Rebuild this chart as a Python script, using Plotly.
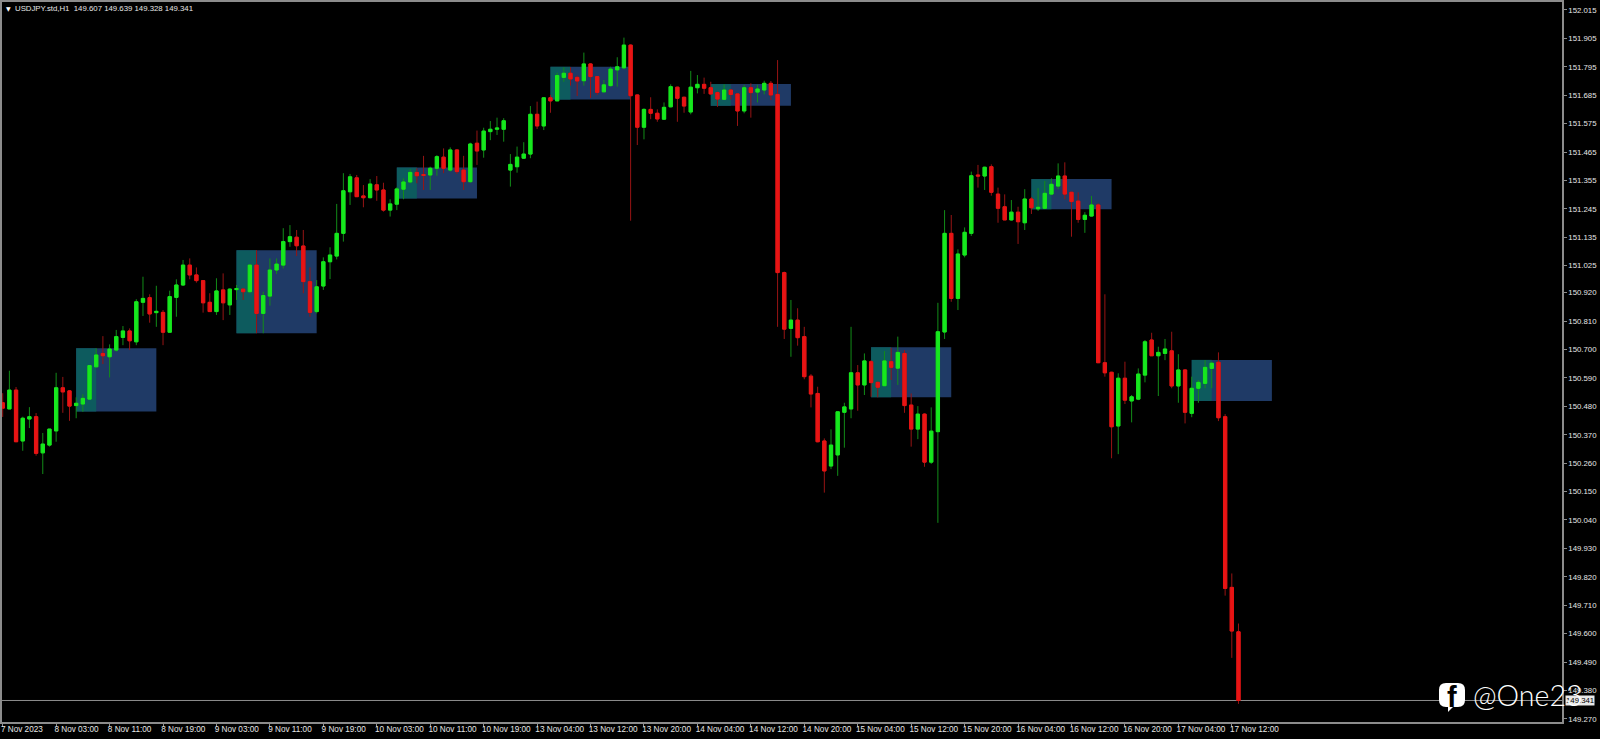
import plotly.graph_objects as go

opens = [150.494,150.470,150.543,150.346,150.431,150.440,150.300,150.330,150.385,150.552,
150.540,150.483,150.489,150.508,150.633,150.685,150.672,150.698,150.747,150.772,
150.730,150.883,150.901,150.843,150.844,150.767,150.902,150.950,151.027,150.989,
150.967,150.883,150.847,150.931,150.873,150.932,150.934,150.924,151.027,150.840,
150.907,151.008,151.027,151.118,151.135,151.101,150.963,150.847,150.946,151.040,
151.062,151.150,151.311,151.365,151.295,151.288,151.338,151.318,151.240,151.263,
151.321,151.349,151.386,151.378,151.376,151.402,151.445,151.395,151.473,151.395,
151.350,151.499,151.473,151.544,151.553,151.553,151.395,151.408,151.441,151.457,
151.611,151.566,151.675,151.663,151.754,151.770,151.754,151.741,151.806,151.757,
151.698,151.722,151.783,151.791,151.879,151.686,151.561,151.630,151.615,151.592,
151.640,151.716,151.677,151.620,151.714,151.727,151.714,151.695,151.669,151.705,
151.690,151.624,151.714,151.697,151.705,151.731,151.688,150.998,150.782,150.814,
150.750,150.597,150.530,150.346,150.249,150.292,150.457,150.470,150.610,150.563,
150.653,150.573,150.560,150.653,150.628,150.685,150.485,150.392,150.450,150.264,
150.382,150.768,151.150,150.898,151.066,151.150,151.376,151.372,151.408,151.302,
151.253,151.202,151.232,151.191,151.283,151.245,151.247,151.302,151.333,151.372,
151.309,151.275,151.204,151.217,151.260,150.649,150.612,150.404,150.589,150.501,
150.508,150.601,150.737,150.676,150.685,150.695,150.559,150.621,150.453,150.550,
150.569,150.627,150.651,150.440,149.779,149.607]

highs = [150.531,150.618,150.555,150.440,150.477,150.454,150.377,150.392,150.610,150.594,
150.543,150.515,150.527,150.640,150.705,150.752,150.720,150.776,150.791,150.782,
150.895,150.982,150.914,150.947,150.853,150.928,150.972,151.047,151.053,151.018,
150.969,150.918,150.976,150.995,150.937,150.950,150.937,151.030,151.085,150.924,
151.053,151.053,151.170,151.182,151.163,151.163,151.018,150.969,151.057,151.096,
151.264,151.383,151.380,151.376,151.337,151.360,151.372,151.346,151.282,151.328,
151.363,151.399,151.402,151.450,151.408,151.453,151.479,151.483,151.476,151.450,
151.501,151.548,151.559,151.585,151.598,151.596,151.457,151.486,151.503,151.643,
151.660,151.677,151.686,151.772,151.793,151.793,151.761,151.850,151.809,151.759,
151.744,151.795,151.832,151.908,151.882,151.688,151.634,151.677,151.630,151.657,
151.727,151.718,151.679,151.779,151.763,151.753,151.737,151.699,151.727,151.708,
151.692,151.725,151.731,151.725,151.741,151.740,151.821,151.002,150.892,150.860,
150.788,150.605,150.556,150.356,150.391,150.459,150.494,150.788,150.640,150.685,
150.659,150.576,150.694,150.707,150.750,150.698,150.530,150.481,150.453,150.476,
150.881,151.240,151.221,151.088,151.173,151.389,151.415,151.408,151.417,151.327,
151.301,151.279,151.253,151.321,151.291,151.325,151.353,151.363,151.421,151.425,
151.311,151.309,151.232,151.295,151.266,150.914,150.614,150.608,150.653,150.524,
150.627,150.737,150.765,150.711,150.741,150.769,150.682,150.624,150.595,150.582,
150.659,150.653,150.689,150.450,149.833,149.639]

lows = [150.439,150.470,150.343,150.308,150.396,150.289,150.218,150.324,150.343,150.455,
150.424,150.434,150.459,150.507,150.633,150.644,150.592,150.692,150.717,150.698,
150.717,150.830,150.804,150.788,150.717,150.765,150.827,150.946,150.972,150.959,
150.843,150.847,150.834,150.814,150.834,150.892,150.892,150.918,150.763,150.763,
150.870,150.993,151.014,151.098,151.062,150.918,150.827,150.840,150.931,150.973,
151.049,151.118,151.260,151.291,151.251,151.286,151.276,151.234,151.215,151.240,
151.282,151.344,151.344,151.318,151.318,151.373,151.383,151.389,151.380,151.318,
151.346,151.415,151.443,151.511,151.531,151.505,151.331,151.385,151.438,151.441,
151.554,151.550,151.617,151.663,151.737,151.722,151.682,151.722,151.674,151.686,
151.696,151.718,151.718,151.786,151.199,151.492,151.514,151.592,151.582,151.589,
151.638,151.582,151.617,151.611,151.692,151.690,151.686,151.640,151.666,151.669,
151.566,151.615,151.598,151.657,151.688,151.666,150.788,150.741,150.672,150.715,
150.585,150.476,150.341,150.146,150.237,150.211,150.320,150.434,150.463,150.524,
150.517,150.515,150.559,150.582,150.563,150.455,150.324,150.353,150.246,150.257,
150.029,150.741,150.885,150.853,151.057,151.140,151.327,151.318,151.296,151.191,
151.202,151.199,151.109,151.163,151.225,151.237,151.244,151.298,151.321,151.282,
151.137,151.191,151.152,151.215,150.649,150.595,150.279,150.295,150.489,150.418,
150.504,150.573,150.675,150.520,150.659,150.550,150.494,150.414,150.438,150.494,
150.550,150.550,150.423,149.747,149.506,149.328]

closes = [150.473,150.543,150.343,150.434,150.440,150.298,150.334,150.392,150.552,150.536,
150.481,150.492,150.511,150.638,150.679,150.676,150.702,150.750,150.772,150.734,
150.885,150.898,150.838,150.848,150.767,150.905,150.950,151.027,150.989,150.967,
150.881,150.847,150.927,150.881,150.934,150.936,150.924,151.027,150.840,150.909,
151.008,151.031,151.118,151.137,151.102,150.963,150.844,150.943,151.040,151.066,
151.150,151.315,151.369,151.292,151.288,151.341,151.318,151.240,151.264,151.322,
151.349,151.386,151.373,151.374,151.402,151.447,151.402,151.473,151.389,151.350,
151.496,151.469,151.546,151.553,151.558,151.586,151.417,151.445,151.457,151.611,
151.566,151.675,151.663,151.761,151.770,151.748,151.740,151.806,151.757,151.696,
151.725,151.786,151.795,151.879,151.683,151.561,151.630,151.615,151.593,151.638,
151.718,151.673,151.643,151.716,151.727,151.712,151.690,151.670,151.705,151.688,
151.624,151.714,151.695,151.709,151.731,151.686,150.998,150.779,150.814,150.746,
150.595,150.528,150.343,150.230,150.330,150.459,150.478,150.610,150.563,150.656,
150.572,150.554,150.656,150.631,150.689,150.483,150.392,150.450,150.264,150.384,
150.769,151.150,150.898,151.070,151.154,151.373,151.372,151.406,151.309,151.247,
151.202,151.232,151.195,151.283,151.249,151.251,151.305,151.340,151.372,151.302,
151.273,151.204,151.220,151.260,150.649,150.610,150.401,150.589,150.504,150.517,
150.605,150.730,150.676,150.689,150.702,150.559,150.621,150.457,150.550,150.573,
150.631,150.647,150.436,149.775,149.610,149.341]

time_labels = ["7 Nov 2023","8 Nov 03:00","8 Nov 11:00","8 Nov 19:00","9 Nov 03:00","9 Nov 11:00",
"9 Nov 19:00","10 Nov 03:00","10 Nov 11:00","10 Nov 19:00","13 Nov 04:00","13 Nov 12:00",
"13 Nov 20:00","14 Nov 04:00","14 Nov 12:00","14 Nov 20:00","15 Nov 04:00","15 Nov 12:00",
"15 Nov 20:00","16 Nov 04:00","16 Nov 12:00","16 Nov 20:00","17 Nov 04:00","17 Nov 12:00"]

price_ticks = [152.015,151.905,151.795,151.685,151.575,151.465,151.355,151.245,151.135,151.025,
150.920,150.810,150.700,150.590,150.480,150.370,150.260,150.150,150.040,149.930,149.820,
149.710,149.600,149.490,149.380,149.270]

# zones: start bar, overlap end bar, end bar, top price, bottom price
zone_start = [11,35,59,82,106,130,154,178]
zone_mid   = [14,38,62,85,109,133,157,181]
zone_end   = [23,47,71,94,118,142,166,190]
zone_top   = [150.705,151.085,151.405,151.795,151.728,150.709,151.360,150.660]
zone_bot   = [150.460,150.763,151.285,151.668,151.644,150.515,151.243,150.501]

last_price = 149.341
title = "USDJPY.std,H1&nbsp;&nbsp;149.607 149.639 149.328 149.341"

W, H = 1600, 739
L, R, T, B = 2, 38, 2, 17
PW, PH = W - L - R, H - T - B
def px(x): return (x - L) / PW
def py(y): return 1 - (y - T) / PH

idx = list(range(len(opens)))
GREEN, RED = "#16e81e", "#e81414"
GREEN_W, RED_W = "#128c18", "#971414"
AX = "#8c8c8c"
TXT = "#e6e6e6"
FONT = "Liberation Sans"

fig = go.Figure()
fig.add_trace(go.Candlestick(x=idx, open=opens, high=highs, low=lows, close=closes, whiskerwidth=0,
    increasing=dict(line=dict(color=GREEN_W, width=1), fillcolor="rgba(0,0,0,0)"),
    decreasing=dict(line=dict(color=RED_W, width=1), fillcolor="rgba(0,0,0,0)"),
    showlegend=False, hoverinfo="skip"))
body_hi = [max(o, c) for o, c in zip(opens, closes)]
body_lo = [min(o, c) for o, c in zip(opens, closes)]
fig.add_trace(go.Candlestick(x=idx, open=opens, high=body_hi, low=body_lo, close=closes, whiskerwidth=0,
    increasing=dict(line=dict(color=GREEN, width=1), fillcolor=GREEN),
    decreasing=dict(line=dict(color=RED, width=1), fillcolor=RED),
    showlegend=False))

shapes = []
for s, m, e, t, b in zip(zone_start, zone_mid, zone_end, zone_top, zone_bot):
    shapes.append(dict(type="rect", layer="below", x0=s, x1=e, y0=b, y1=t, xref="x", yref="y",
                       fillcolor="#1f3a66", line_width=0))
    shapes.append(dict(type="rect", layer="below", x0=s, x1=m, y0=b, y1=t, xref="x", yref="y",
                       fillcolor="#0d5b5e", line_width=0))
shapes.append(dict(type="line", layer="below", xref="paper", x0=0, x1=1, yref="y", y0=last_price, y1=last_price,
                   line=dict(color=AX, width=1)))

# watermark badge
pts = [("M",1446,683),("L",1458,683),("Q",1465,683,1465,690),("L",1465,700),("Q",1465,707,1458,707),
       ("L",1453,707),("L",1448,712),("L",1448,707),("L",1446,707),("Q",1439,707,1439,700),
       ("L",1439,690),("Q",1439,683,1446,683)]
path = ""
for p in pts:
    c = p[1:]
    path += p[0] + " ".join(f"{(px(c[i]) if i % 2 == 0 else py(c[i])):.5f}" for i in range(len(c))) + " "
shapes.append(dict(type="path", xref="paper", yref="paper", path=path + "Z", fillcolor="white", line_width=0))

ann = [
    dict(xref="paper", yref="paper", x=px(13), y=py(9), xanchor="left", yanchor="middle", showarrow=False,
         text=title, font=dict(family=FONT, size=7.8, color=TXT)),
    dict(xref="paper", yref="paper", x=px(8), y=py(9), xanchor="center", yanchor="middle", showarrow=False,
         text="▼", font=dict(family="DejaVu Sans", size=6, color="white")),
    dict(xref="paper", yref="y", x=px(1565), y=last_price, xanchor="left", yanchor="middle", showarrow=False,
         text="149.341", bgcolor="#e8e8e8", borderpad=0, font=dict(family=FONT, size=7.8, color="black")),
    dict(xref="paper", yref="paper", x=px(1452), y=py(697), xanchor="center", yanchor="middle", showarrow=False,
         text="<b>f</b>", font=dict(family=FONT, size=29, color="black")),
    dict(xref="paper", yref="paper", x=px(1471), y=py(695), xanchor="left", yanchor="middle", showarrow=False,
         text="@One23", font=dict(family="Lato", size=28.5, color="white", weight=300)),
]

axis_common = dict(showgrid=False, zeroline=False, showline=True, mirror=True, linecolor=AX, linewidth=1.5,
                   ticks="outside", ticklen=3, tickwidth=1, tickcolor=AX)
fig.update_layout(
    width=W, height=H, margin=dict(l=L, r=R, t=T, b=B, pad=0, autoexpand=False),
    paper_bgcolor="black", plot_bgcolor="black", showlegend=False,
    shapes=shapes, annotations=ann,
    xaxis=dict(range=[-0.105, 233.43], tickmode="array", tickvals=[i * 8 for i in range(len(time_labels))],
               ticktext=time_labels, ticklabelposition="outside right", tickangle=0,
               ticklabelshift=-3, ticklabelstandoff=-2,
               tickfont=dict(family=FONT, size=8.2, color=TXT),
               rangeslider=dict(visible=False), **axis_common),
    yaxis=dict(range=[149.2577, 152.0459], side="right", tickmode="array", tickvals=price_ticks,
               ticktext=[f"{v:.3f}" for v in price_ticks],
               tickfont=dict(family=FONT, size=7.8, color=TXT), **axis_common),
)
fig.write_html("out.html", config=dict(displayModeBar=False),
               post_script="document.body.style.margin='0';document.body.style.background='#000';document.documentElement.style.overflow='hidden';")
